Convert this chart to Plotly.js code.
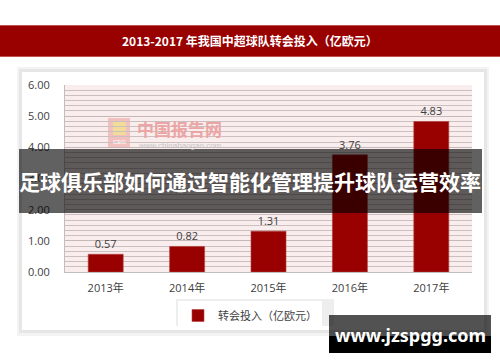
<!DOCTYPE html>
<html>
<head>
<meta charset="utf-8">
<script src="https://cdn.plot.ly/plotly-3.0.1.min.js"></script>
<style>html,body{margin:0;padding:0;background:#fff;}#chart{width:500px;height:362px;}</style>
</head>
<body>
<div id="chart"></div>
<script>
const categories = ['2013年', '2014年', '2015年', '2016年', '2017年'];
const values = [0.57, 0.82, 1.31, 3.76, 4.83];
const seriesName = '转会投入（亿欧元）';
const chartTitle = '2013-2017 年我国中超球队转会投入（亿欧元）';
const bannerText = '足球俱乐部如何通过智能化管理提升球队运营效率';
const siteText = 'www.jzspgg.com';
const watermarkCn = '中国报告网';
const watermarkUrl = 'www.chinabaogao.com';

const W = 500, H = 362;
const L = 65, R = 472, T = 85, B = 272;
const px = x => (x - L) / (R - L);
const py = y => (B - y) / (B - T);
const rect = (x0, y0, x1, y1, fill, layer) => ({
  type: 'rect', xref: 'paper', yref: 'paper',
  x0: px(x0), x1: px(x1), y0: py(y1), y1: py(y0),
  fillcolor: fill, line: {width: 0}, layer: layer || 'below'
});
const txt = (x, y, text, size, color, family, weight) => ({
  xref: 'paper', yref: 'paper', x: px(x), y: py(y), text: text,
  showarrow: false, xanchor: 'center', yanchor: 'middle',
  font: {size: size, color: color, family: family, weight: weight || 'normal'}
});

const numFont = 'Open Sans, Noto Sans CJK SC, sans-serif';
const cjkFont = 'Noto Sans CJK SC, sans-serif';

const trace = {
  type: 'bar', x: categories, y: values, name: seriesName,
  marker: {color: '#990000', line: {color: '#b84040', width: 0.6}},
  text: values.map(v => v.toFixed(2)), textposition: 'outside',
  textfont: {size: 11, color: '#404040', family: numFont},
  cliponaxis: false, showlegend: true
};

const layout = {
  width: W, height: H,
  margin: {l: L, r: W - R, t: T, b: H - B, pad: 0},
  paper_bgcolor: '#ffffff', plot_bgcolor: 'rgba(0,0,0,0)',
  bargap: 0.57,
  showlegend: true,
  legend: {
    orientation: 'h', x: px(178), y: py(301), xanchor: 'left', yanchor: 'top',
    bgcolor: '#ffffff', borderwidth: 0,
    font: {size: 11, color: '#404040', family: cjkFont},
    itemwidth: 30
  },
  xaxis: {
    showline: true, linecolor: '#bfbfbf', linewidth: 1,
    showgrid: false, ticks: '', tickfont: {size: 11, color: '#404040', family: numFont},
    ticklabelstandoff: 6, fixedrange: true
  },
  yaxis: {
    range: [0, 6], dtick: 1, tickformat: '.2f',
    showline: true, linecolor: '#bfbfbf', linewidth: 1,
    showgrid: true, gridcolor: '#c4b8b8', gridwidth: 1,
    minor: {dtick: 1 / 6, showgrid: true, gridcolor: '#cbbfbf', gridwidth: 1},
    zeroline: false, ticks: '',
    tickfont: {size: 11, color: '#404040', family: numFont},
    ticklabelstandoff: 12, fixedrange: true
  },
  shapes: [
    rect(17, 67, 489, 336, '#f3f3f3'),
    rect(19, 69, 487, 333, '#e6e6e6'),
    rect(22, 72, 484, 330, '#ffffff'),
    rect(0, 25, 500, 57, '#990000'),
    rect(0, 25, 500, 26, '#c05050'),
    rect(0, 56, 500, 57, '#c05050'),
    rect(L, T, R, B, '#f9eded'),
    rect(176, 299, 334, 326, '#eeeeee'),
    rect(108, 118, 130, 148, '#f3c0c0'),
    rect(113, 122, 126, 135, '#f1dc9a'),
    rect(19, 149, 482, 213, 'rgba(0,0,0,0.62)', 'above'),
    rect(329, 315, 491, 337, 'rgba(0,0,0,0.68)', 'above'),
    rect(329, 336, 491, 353, '#000000', 'above')
  ],
  annotations: [
    txt(250, 41, chartTitle, 12, '#ffffff', 'Noto Sans CJK SC', 'bold'),
    txt(179, 128, watermarkCn, 17, '#eba5a5', 'Noto Sans CJK SC', 'bold'),
    txt(180, 145, watermarkUrl, 8, '#c4c4c4', 'Liberation Sans, sans-serif'),
    txt(119, 142, 'CEG', 6, '#ffffff', 'Liberation Sans, sans-serif'),
    txt(250, 181, bannerText, 21, '#ffffff', 'Noto Sans CJK SC', 'bold'),
    txt(410, 335, siteText, 18, '#ffffff', 'Noto Sans, sans-serif', 'bold')
  ]
};

Plotly.newPlot('chart', [trace], layout, {staticPlot: true, displayModeBar: false});
</script>
</body>
</html>
